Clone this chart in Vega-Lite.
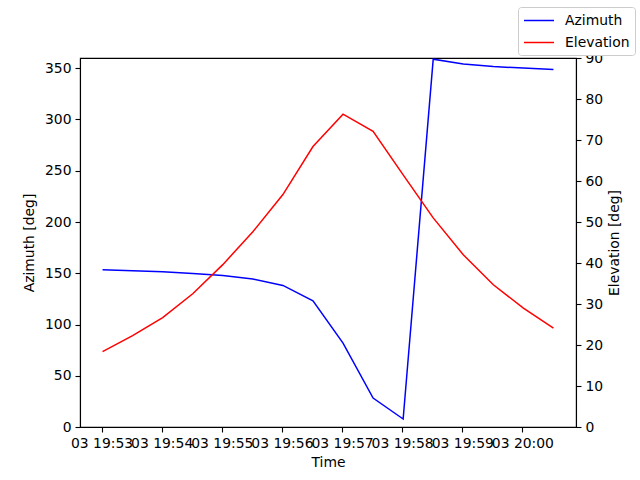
{
  "$schema": "https://vega.github.io/schema/vega-lite/v6.json",
  "autosize": {"type": "none"},
  "padding": {"left": 80, "top": 58, "right": 64, "bottom": 53},
  "width": 496,
  "height": 369,
  "background": "white",
  "config": {
    "font": "DejaVu Sans",
    "view": {"stroke": "black", "strokeWidth": 1.1},
    "axis": {
      "grid": false,
      "labelFont": "DejaVu Sans",
      "titleFont": "DejaVu Sans",
      "labelFontSize": 13.9,
      "titleFontSize": 13.9,
      "titleFontWeight": "normal",
      "labelColor": "black",
      "titleColor": "black",
      "tickColor": "black",
      "domainColor": "black",
      "domainWidth": 1.1,
      "tickWidth": 1.1,
      "tickSize": 5,
      "labelPadding": 4,
      "labelOverlap": false,
      "labelFlush": false,
      "labelBound": false
    },
    "legend": {
      "labelFont": "DejaVu Sans",
      "labelFontSize": 13.9,
      "labelColor": "black"
    }
  },
  "data": {
    "values": [
      {"t": "2024-01-03T19:53:01", "az": 153.4, "el": 18.4},
      {"t": "2024-01-03T19:53:31", "az": 152.5, "el": 22.3},
      {"t": "2024-01-03T19:54:01", "az": 151.5, "el": 26.7},
      {"t": "2024-01-03T19:54:31", "az": 149.8, "el": 32.5},
      {"t": "2024-01-03T19:55:01", "az": 147.7, "el": 39.6},
      {"t": "2024-01-03T19:55:31", "az": 144.3, "el": 47.6},
      {"t": "2024-01-03T19:56:01", "az": 138.1, "el": 56.7},
      {"t": "2024-01-03T19:56:31", "az": 123.1, "el": 68.4},
      {"t": "2024-01-03T19:57:01", "az": 81.9, "el": 76.3},
      {"t": "2024-01-03T19:57:31", "az": 28.3, "el": 72.1},
      {"t": "2024-01-03T19:58:01", "az": 7.8, "el": 61.5},
      {"t": "2024-01-03T19:58:31", "az": 358.8, "el": 51.0},
      {"t": "2024-01-03T19:59:01", "az": 354.2, "el": 42.0},
      {"t": "2024-01-03T19:59:31", "az": 351.6, "el": 34.7},
      {"t": "2024-01-03T20:00:01", "az": 350.2, "el": 29.0},
      {"t": "2024-01-03T20:00:31", "az": 348.8, "el": 24.1}
    ]
  },
  "layer": [
    {
      "mark": {"type": "line", "strokeWidth": 1.5, "clip": true},
      "encoding": {
        "x": {
          "field": "t",
          "type": "temporal",
          "title": "Time",
          "scale": {
            "domain": [
              {"year": 2024, "month": 1, "date": 3, "hours": 19, "minutes": 52, "seconds": 38, "milliseconds": 500},
              {"year": 2024, "month": 1, "date": 3, "hours": 20, "minutes": 0, "seconds": 53, "milliseconds": 500}
            ]
          },
          "axis": {
            "values": [
              {"year": 2024, "month": 1, "date": 3, "hours": 19, "minutes": 53},
              {"year": 2024, "month": 1, "date": 3, "hours": 19, "minutes": 54},
              {"year": 2024, "month": 1, "date": 3, "hours": 19, "minutes": 55},
              {"year": 2024, "month": 1, "date": 3, "hours": 19, "minutes": 56},
              {"year": 2024, "month": 1, "date": 3, "hours": 19, "minutes": 57},
              {"year": 2024, "month": 1, "date": 3, "hours": 19, "minutes": 58},
              {"year": 2024, "month": 1, "date": 3, "hours": 19, "minutes": 59},
              {"year": 2024, "month": 1, "date": 3, "hours": 20, "minutes": 0}
            ],
            "labelExpr": "timeFormat(datum.value, '%d %H:%M')",
            "titlePadding": 6
          }
        },
        "y": {
          "field": "az",
          "type": "quantitative",
          "title": "Azimuth [deg]",
          "scale": {"domain": [0, 360], "nice": false, "zero": false},
          "axis": {"orient": "left", "values": [0, 50, 100, 150, 200, 250, 300, 350], "titlePadding": 8}
        },
        "color": {
          "datum": "Azimuth",
          "type": "nominal",
          "scale": {"domain": ["Azimuth", "Elevation"], "range": ["#0000ff", "#ff0000"]},
          "legend": {
            "title": null,
            "orient": "none",
            "legendX": 438,
            "legendY": -51,
            "symbolType": "M-1,0H3",
            "symbolSize": 225,
            "symbolStrokeWidth": 1.5,
            "padding": 5,
            "rowPadding": 6,
            "labelOffset": 25,
            "strokeColor": "#cccccc",
            "fillColor": "white",
            "cornerRadius": 3
          }
        }
      }
    },
    {
      "mark": {"type": "line", "strokeWidth": 1.5, "clip": true},
      "encoding": {
        "x": {"field": "t", "type": "temporal"},
        "y": {
          "field": "el",
          "type": "quantitative",
          "title": "Elevation [deg]",
          "scale": {"domain": [0, 90], "nice": false, "zero": false},
          "axis": {"orient": "right", "values": [0, 10, 20, 30, 40, 50, 60, 70, 80, 90], "titleAngle": 270, "titlePadding": 19}
        },
        "color": {"datum": "Elevation", "type": "nominal"}
      }
    }
  ],
  "resolve": {"scale": {"y": "independent"}}
}
